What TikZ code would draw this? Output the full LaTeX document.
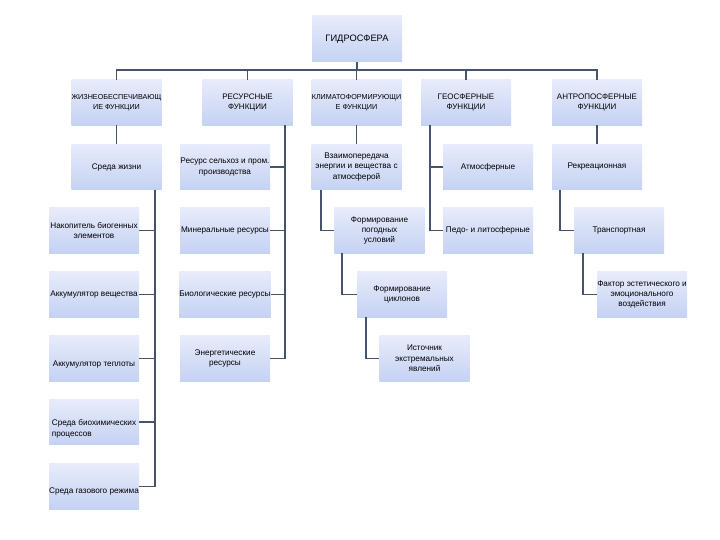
\documentclass[tikz,border=0pt]{standalone}
\usepackage{fontspec}
\setmainfont{Liberation Sans}
\definecolor{boxtop}{HTML}{E8EBFB}
\definecolor{boxbot}{HTML}{C4D2F3}
\definecolor{linec}{HTML}{45546A}
\newcommand{\lowtext}[2]{\raisebox{#1}[0pt][0pt]{\begin{tabular}{@{}l@{}}#2\end{tabular}}}
\begin{document}
\begin{tikzpicture}[x=1pt,y=-1pt,
  fbox/.style={draw=none, top color=boxtop, bottom color=boxbot,
    minimum width=90pt, minimum height=45.5pt, inner xsep=0pt, inner ysep=1pt, align=center,
    font=\fontsize{8.2}{10.3}\selectfont},
  hbox/.style={fbox, font=\fontsize{8}{10}\selectfont},
  sbox/.style={fbox, font=\fontsize{7.2}{9.5}\selectfont},
  conn/.style={draw=linec, line width=1.7pt}]
\useasboundingbox (0,0) rectangle (720,540);
\fill[white] (0,0) rectangle (720,540);
% root
\node[fbox, minimum height=46pt, font=\fontsize{9.3}{11}\selectfont] (root) at (357,39) {ГИДРОСФЕРА};
% level 1
\node[sbox] (zh)  at (116.5,102.5) {ЖИЗНЕОБЕСПЕЧИВАЮЩ\\ИЕ ФУНКЦИИ};
\node[hbox] (res) at (247.5,102.5) {РЕСУРСНЫЕ\\ФУНКЦИИ};
\node[sbox] (kl)  at (356.5,102.5) {КЛИМАТОФОРМИРУЮЩИ\\Е ФУНКЦИИ};
\node[hbox] (geo) at (466,102.5) {ГЕОСФЕРНЫЕ\\ФУНКЦИИ};
\node[hbox] (ant) at (597,102.5) {АНТРОПОСФЕРНЫЕ\\ФУНКЦИИ};
% row 2
\node[fbox] (sreda) at (116.5,167) {Среда жизни};
\node[fbox] (rsx)   at (225,167) {Ресурс сельхоз и пром.\\производства};
\node[fbox] (vz)    at (356.5,167) {Взаимопередача\\энергии и вещества с\\атмосферой};
\node[fbox] (atm)   at (488,167) {Атмосферные};
\node[fbox] (rek)   at (597,167) {Рекреационная};
% row 3
\node[fbox] (nak) at (94,230.5) {Накопитель биогенных\\элементов};
\node[fbox] (min) at (225,230.5) {Минеральные ресурсы};
\node[fbox] (pog) at (379.5,230.5) {Формирование\\погодных\\условий};
\node[fbox] (ped) at (488,230.5) {Педо- и литосферные};
\node[fbox] (tr)  at (619,230.5) {Транспортная};
% row 4
\node[fbox] (akv) at (94,294.5) {Аккумулятор вещества};
\node[fbox] (bio) at (225,294.5) {Биологические ресурсы};
\node[fbox] (cik) at (402,294.5) {Формирование\\циклонов};
\node[fbox] (fak) at (642,294.5) {Фактор эстетического и\\эмоционального\\воздействия};
% row 5
\node[fbox] (akt) at (94,358.5) {\lowtext{-8pt}{Аккумулятор теплоты}};
\node[fbox] (en)  at (225,358.5) {Энергетические\\ресурсы};
\node[fbox] (ist) at (424.5,358.5) {Источник\\экстремальных\\явлений};
% row 6,7
\node[fbox] (bh)  at (94,422) {\lowtext{-9pt}{Среда биохимических\\процессов}};
\node[fbox] (gaz) at (94,486.5) {\lowtext{-6.5pt}{Среда газового режима}};
% connectors
\coordinate (bus) at (357,70);
\draw[conn] (root.south) -- (bus);
\foreach \n in {zh,res,kl,geo,ant} \draw[conn] (\n.north) |- (bus);
\draw[conn] (zh.south) -- (sreda.north);
\draw[conn] (kl.south) -- (vz.north);
\draw[conn] (ant.south) -- (rek.north);
\coordinate (s1) at ([xshift=-7pt]sreda.south east);
\foreach \n in {nak,akv,akt,bh,gaz} \draw[conn] (s1) |- (\n.east);
\coordinate (s2) at ([xshift=-8pt]res.south east);
\foreach \n in {rsx,min,bio,en} \draw[conn] (s2) |- (\n.east);
\draw[conn] ([xshift=10pt]vz.south west) |- (pog.west);
\draw[conn] ([xshift=8pt]pog.south west) |- (cik.west);
\draw[conn] ([xshift=9pt]cik.south west) |- (ist.west);
\coordinate (s4) at ([xshift=9pt]geo.south west);
\foreach \n in {atm,ped} \draw[conn] (s4) |- (\n.west);
\draw[conn] ([xshift=8pt]rek.south west) |- (tr.west);
\draw[conn] ([xshift=9pt]tr.south west) |- (fak.west);
\end{tikzpicture}
\end{document}
